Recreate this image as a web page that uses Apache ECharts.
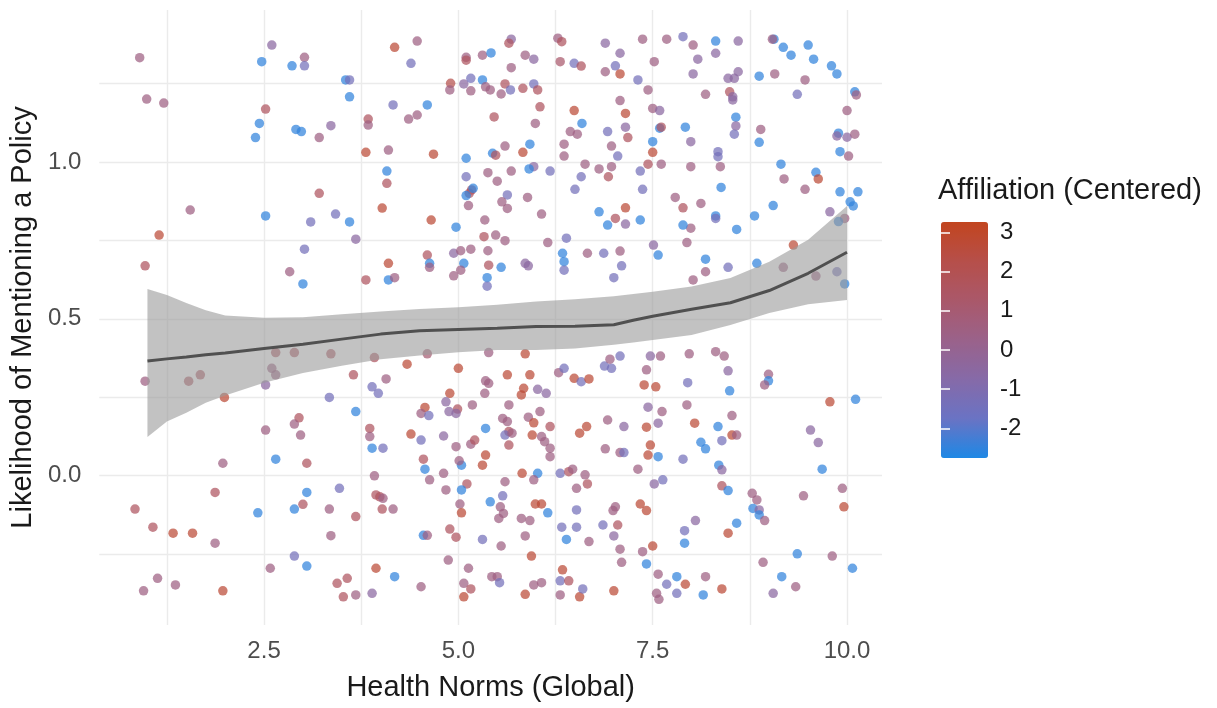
<!DOCTYPE html>
<html>
<head>
<meta charset="utf-8">
<title>Health Norms vs Policy Mentions</title>
<script src="https://cdn.jsdelivr.net/npm/echarts@6.0.0/dist/echarts.min.js"></script>
<style>
  html, body { margin: 0; padding: 0; background: #fff; }
  #main { width: 1217px; height: 708px; }
</style>
</head>
<body>
<div id="main"></div>
<script>
// points: [health norms, mentioned policy (jittered), affiliation centered]
var upperLeft = [
  [0.90,1.333,0.5],[0.99,1.201,0.5],[1.21,1.188,0.5],[2.60,1.373,-0.5],[2.47,1.32,-2.5],[3.02,1.334,0.5],[2.86,1.307,-2.5],[3.02,1.307,-1.4],
  [4.18,1.366,2.7],[4.47,1.386,0.5],[4.39,1.315,-1.4],[5.10,1.334,0.5],[5.10,1.325,1.6],[5.31,1.341,0.5],[5.42,1.348,-2.5],[3.55,1.262,-2.5],
  [3.60,1.262,-1.4],[3.60,1.208,-2.5],[4.90,1.251,2.2],[4.89,1.23,0.5],[5.07,1.249,-0.5],[5.16,1.267,-1.4],[5.16,1.227,0.5],[5.31,1.262,-2.5],
  [5.35,1.24,0.5],[5.41,1.23,0.5],[2.52,1.169,1.6],[2.44,1.123,-2.5],[2.39,1.078,-2.5],[2.91,1.104,-2.5],[2.98,1.097,-2.5],[3.36,1.116,-0.5],
  [3.21,1.078,0.5],[4.16,1.182,-1.4],[4.60,1.182,-2.5],[4.36,1.137,0.5],[4.47,1.15,0.5],[3.84,1.137,1.6],[3.84,1.118,0.5],[3.81,1.031,2.7],
  [4.10,1.038,0.5],[4.68,1.025,2.7],[5.10,1.012,-2.5],[5.46,1.144,1.6],[5.44,1.028,-2.5],[5.48,1.022,1.6],[5.10,0.953,-1.4],[5.38,0.966,0.5],
  [5.17,0.911,1.6],[5.14,0.90,1.6],[5.10,0.893,-2.5],[5.19,0.916,-2.5],[5.13,0.861,0.5],[5.34,0.815,0.5],[4.97,0.792,-2.5],[4.08,0.971,-2.5],
  [4.08,0.932,1.6],[3.21,0.90,1.6],[1.55,0.847,0.5],[2.52,0.828,-2.5],[3.10,0.809,-1.4],[3.42,0.834,-1.4],[3.60,0.809,-2.5],[4.02,0.853,2.7],
  [4.65,0.815,2.7],[1.15,0.767,2.7]
];
var midLeft = [
  [0.97,0.669,1.6],[3.02,0.722,-1.4],[2.83,0.65,0.5],[3.00,0.611,-2.5],[3.68,0.754,-0.5],[4.60,0.703,1.6],[4.63,0.677,-2.5],[4.63,0.664,0.5],
  [4.10,0.677,2.7],[3.81,0.624,1.6],[4.10,0.624,-2.5],[4.18,0.631,0.5],[4.94,0.709,-0.5],[5.03,0.717,0.5],[5.16,0.722,0.5],[5.33,0.762,1.6],
  [5.07,0.677,-2.5],[5.03,0.655,0.5],[4.94,0.637,0.5],[5.38,0.717,0.5],[5.39,0.671,1.6],[5.37,0.631,-2.5],[5.37,0.604,-1.4],
  [0.97,0.301,0.5],[1.53,0.301,1.6],[1.68,0.321,1.6],[1.99,0.249,2.7],[2.65,0.392,1.6],[2.89,0.392,1.6],[2.60,0.342,0.5],[2.65,0.321,0.5],
  [2.52,0.289,-0.5],[3.36,0.388,1.6],[3.92,0.376,1.6],[4.60,0.388,1.0],[4.34,0.355,2.7],[3.65,0.321,1.6],[4.07,0.308,0.5],[3.89,0.283,-1.4],
  [3.97,0.262,-1.4],[3.34,0.249,-1.4],[5.00,0.342,2.7],[5.35,0.302,0.5],[5.39,0.294,0.5],[5.34,0.262,0.5],[5.39,0.392,0.5],[4.89,0.262,2.7],
  [4.84,0.235,-0.5],[5.18,0.225,0.5],[4.57,0.217,2.7],[4.52,0.198,0.5],[4.62,0.191,-1.4],[4.88,0.204,-0.5],[4.99,0.212,1.6],[4.97,0.198,-0.5],
  [3.68,0.204,-2.5],[2.95,0.184,1.6],[2.89,0.164,0.5],[2.52,0.145,0.5],[3.86,0.15,1.6],[5.35,0.15,-2.5]
];
var lowerLeft = [
  [2.97,0.129,0.5],[3.86,0.124,0.5],[4.39,0.132,2.7],[4.52,0.113,-1.4],[4.81,0.126,-0.5],[4.97,0.092,0.5],[5.16,0.10,0.5],[5.21,0.113,1.6],
  [5.35,0.065,2.7],[5.31,0.033,2.7],[5.04,0.033,-2.5],[5.01,0.047,0.5],[1.97,0.039,0.5],[2.65,0.052,-2.5],[3.05,0.039,1.6],[3.89,0.087,-2.5],
  [4.03,0.087,-1.4],[4.55,0.052,1.6],[4.57,0.02,-2.5],[4.63,-0.014,0.5],[4.81,0.007,0.5],[4.84,-0.046,0.5],[5.11,-0.027,1.6],[5.04,-0.046,-2.5],
  [5.41,-0.084,-2.5],[5.02,-0.091,0.5],[5.04,-0.119,2.7],[3.92,-0.001,0.5],[3.94,-0.062,1.6],[3.99,-0.068,1.6],[4.03,-0.073,0.5],[4.02,-0.107,1.6],
  [4.16,-0.107,0.5],[3.68,-0.131,1.6],[3.34,-0.107,0.5],[3.05,-0.054,-2.5],[3.47,-0.041,-1.4],[3.00,-0.092,1.6],[2.89,-0.107,-2.5],[2.42,-0.119,-2.5],
  [1.87,-0.054,1.6],[0.84,-0.107,1.6],[1.07,-0.165,1.6],[1.33,-0.184,2.7],[1.58,-0.184,2.7],[1.87,-0.216,0.5],[3.36,-0.192,0.5],[4.89,-0.171,1.6],
  [4.97,-0.197,1.6],[4.55,-0.191,-2.5],[4.60,-0.191,0.5],[5.31,-0.204,-1.4],[2.89,-0.257,-1.4],[3.05,-0.289,-2.5],[2.58,-0.296,0.5],[4.87,-0.27,0.5],
  [3.94,-0.296,2.7],[4.18,-0.323,-2.5],[3.44,-0.344,1.6],[3.57,-0.328,1.6],[3.52,-0.387,1.6],[3.68,-0.381,0.5],[3.89,-0.376,-0.5],[4.52,-0.355,0.5],
  [5.13,-0.296,0.5],[5.07,-0.344,0.5],[5.16,-0.362,1.6],[5.07,-0.387,2.7],[5.43,-0.323,0.5],[1.13,-0.328,0.5],[0.95,-0.368,0.5],[1.36,-0.349,0.5],
  [1.97,-0.368,2.7]
];
var upperRight = [
  [5.68,1.392,-0.5],[5.65,1.379,1.6],[5.86,1.341,0.5],[5.97,1.328,-0.5],[5.68,1.301,0.5],[6.28,1.395,0.5],[6.33,1.384,1.6],[6.31,1.32,1.2],
  [6.49,1.315,-1.4],[6.58,1.306,1.6],[6.89,1.379,-0.5],[7.08,1.347,-0.5],[6.89,1.288,0.5],[7.02,1.307,-1.4],[7.08,1.281,2.7],[7.37,1.392,0.5],
  [7.68,1.392,0.5],[7.89,1.40,-1.4],[8.02,1.373,0.5],[7.52,1.32,0.5],[7.31,1.262,-1.4],[8.08,1.328,-0.5],[8.31,1.347,-0.5],[8.31,1.386,-2.5],
  [8.60,1.386,-0.5],[8.02,1.281,-0.5],[8.47,1.267,-0.5],[8.55,1.267,-0.5],[8.60,1.288,-0.5],[8.87,1.274,-2.5],[9.07,1.281,0.5],[9.06,1.392,-2.5],
  [9.04,1.392,0.5],[9.18,1.366,-2.5],[9.28,1.341,-2.5],[9.50,1.373,-2.5],[9.57,1.328,-2.5],[9.80,1.307,-2.5],[9.87,1.281,-2.5],[9.46,1.262,0.5],
  [9.36,1.216,-1.4],[8.18,1.216,0.5],[8.49,1.224,1.6],[8.53,1.208,-0.5],[8.53,1.198,-0.5],[8.57,1.143,-2.5],[8.57,1.115,-0.5],[8.55,1.089,-1.4],
  [8.89,1.104,0.5],[8.87,1.063,-2.5],[10.10,1.224,-2.5],[10.12,1.214,0.5],[10.0,1.164,0.5],[9.89,1.092,-2.5],[9.87,1.083,-0.5],[10.0,1.079,-0.5],
  [10.10,1.089,0.5],[9.91,1.033,-2.5],[10.02,1.019,0.5],[9.15,0.993,-2.5],[9.19,0.946,0.5],[9.60,0.967,-2.5],[9.63,0.946,2.7],[9.46,0.913,0.5],
  [9.91,0.905,-2.5],[10.14,0.905,-2.5],[10.04,0.873,-2.5],[10.08,0.86,-2.5],[9.78,0.841,-0.5],[9.97,0.82,0.5],[9.89,0.81,-2.5],[9.05,0.861,-2.5],
  [8.81,0.828,-2.5],[8.58,0.785,-2.5],[8.31,0.828,-2.5],[8.31,0.82,-1.4],[8.38,0.919,-2.5],[8.34,1.033,-1.4],[8.34,1.017,-1.4],[8.37,0.985,0.5],
  [7.99,0.985,0.5],[7.99,1.065,-0.5],[7.92,1.111,-2.5],[8.12,0.868,0.5],[7.79,0.887,0.5],[7.89,0.854,1.6],[7.99,0.789,0.5],[7.89,0.799,-2.5]
];
var upperMid = [
  [7.44,1.23,0.5],[7.50,1.171,0.5],[7.59,1.164,-0.5],[7.08,1.196,0.5],[7.15,1.155,2.7],[7.15,1.111,-0.5],[7.18,1.078,1.6],[7.59,1.108,-2.5],
  [7.61,1.111,1.6],[7.50,1.065,-2.5],[7.50,1.031,2.7],[7.44,0.993,1.6],[7.61,0.993,0.5],[7.34,0.971,-1.4],[7.37,0.913,-1.4],[7.34,0.815,-2.5],
  [7.15,0.854,2.7],[7.02,0.82,1.6],[7.15,0.802,-0.5],[6.81,0.841,-2.5],[6.92,0.799,-2.5],[6.97,1.051,0.5],[7.05,1.019,-1.4],[6.92,1.097,-1.4],
  [6.97,0.985,0.5],[6.93,0.953,1.6],[6.81,0.978,0.5],[6.58,0.953,-1.4],[6.50,0.913,-1.4],[6.63,0.993,0.5],[6.59,1.123,-2.5],[6.49,1.164,2.7],
  [6.44,1.097,0.5],[6.53,1.089,0.5],[6.36,1.057,0.5],[6.36,1.019,0.5],[6.18,0.971,-1.4],[5.97,0.985,-0.5],[5.91,0.978,-2.5],[5.92,1.057,-2.5],
  [5.83,1.031,2.7],[5.60,1.051,0.5],[5.68,0.971,0.5],[5.50,0.939,0.5],[5.63,0.895,-1.4],[5.56,0.873,0.5],[5.63,0.852,0.5],[5.89,0.887,0.5],
  [6.07,0.834,0.5],[5.99,1.123,0.5],[6.05,1.176,1.6],[5.83,1.235,1.6],[5.97,1.249,-1.4],[6.02,1.23,1.6],[5.60,1.249,1.6],[5.55,1.217,0.5],
  [5.67,1.23,-1.4]
];
var midRight = [
  [5.60,0.749,0.5],[5.48,0.767,0.5],[6.15,0.743,0.5],[6.39,0.757,-1.4],[6.34,0.709,-2.5],[6.36,0.682,-2.5],[6.36,0.655,-1.4],[5.86,0.677,-0.5],
  [5.90,0.669,-0.5],[5.55,0.664,-2.5],[6.66,0.709,0.5],[6.87,0.709,-1.4],[7.08,0.716,0.5],[7.10,0.669,-1.4],[7.00,0.631,-1.4],[7.51,0.735,-0.5],
  [7.57,0.703,-2.5],[7.94,0.743,0.5],[8.18,0.69,-2.5],[8.18,0.65,0.5],[8.02,0.624,0.5],[8.47,0.664,-1.4],[8.84,0.677,-2.5],[9.31,0.735,2.7],
  [9.18,0.664,0.5],[9.60,0.636,0.5],[9.87,0.65,-1.4],[9.97,0.611,-2.5],
  [5.86,0.388,2.7],[5.63,0.321,2.7],[5.92,0.321,2.7],[5.84,0.278,2.7],[5.81,0.257,2.7],[6.02,0.275,-0.5],[6.13,0.262,-0.5],[5.65,0.225,0.5],
  [6.05,0.204,0.5],[5.57,0.182,0.5],[5.63,0.172,0.5],[5.90,0.186,0.5],[5.97,0.168,2.7],[6.18,0.156,1.6],[6.29,0.328,0.5],[6.36,0.342,-1.4],
  [6.49,0.31,2.7],[6.58,0.299,-1.4],[6.68,0.308,2.7],[6.88,0.349,-1.4],[6.97,0.342,-1.4],[6.95,0.371,0.5],[7.08,0.381,-1.4],[6.92,0.177,0.5],
  [7.13,0.156,-0.5],[6.65,0.156,2.7],[7.42,0.337,0.5],[7.47,0.381,-0.5],[7.60,0.381,0.5],[7.39,0.289,2.7],[7.54,0.283,2.7],[7.44,0.218,-0.5],
  [7.62,0.204,0.5],[7.57,0.167,-0.5],[7.42,0.154,2.7],[7.97,0.388,0.5],[7.95,0.296,-1.4],[7.94,0.225,0.5],[8.04,0.167,2.7],[8.31,0.395,0.5],
  [8.42,0.381,0.5],[8.47,0.334,-0.5],[8.49,0.27,-2.5],[8.52,0.191,0.5],[8.34,0.156,-2.5],[8.99,0.323,0.5],[8.99,0.302,-2.5],[8.94,0.289,0.5],
  [9.78,0.235,2.7],[10.11,0.243,-2.5],[9.53,0.145,-0.5]
];
var lowerRight = [
  [5.65,0.14,1.6],[5.60,0.129,-1.4],[5.69,0.135,0.5],[5.65,0.097,1.6],[5.95,0.129,2.7],[6.07,0.124,0.5],[6.11,0.108,0.5],[6.18,0.087,0.5],
  [6.18,0.06,0.5],[6.56,0.135,2.7],[6.89,0.085,0.5],[7.08,0.073,0.5],[7.13,0.073,-1.4],[7.47,0.097,2.7],[7.44,0.065,2.7],[7.57,0.06,-2.5],
  [7.89,0.052,-1.4],[8.12,0.106,-2.5],[8.18,0.085,-2.5],[8.39,0.111,-1.4],[8.52,0.129,2.7],[8.58,0.129,0.5],[8.35,0.033,-2.5],[8.39,0.018,-0.5],
  [9.63,0.105,-0.5],[9.68,0.02,-2.5],[5.82,0.007,2.7],[6.02,0.007,-2.5],[5.97,-0.014,0.5],[5.60,-0.02,0.5],[6.31,0.007,-1.4],[6.42,0.012,1.6],
  [6.47,0.02,0.5],[6.63,0.002,0.5],[6.66,-0.027,1.6],[6.52,-0.041,0.5],[7.31,0.02,0.5],[7.52,-0.027,-0.5],[7.63,-0.014,-1.4],[8.39,-0.033,1.6],
  [8.47,-0.048,-2.5],[8.78,-0.057,0.5],[8.84,-0.078,0.5],[8.79,-0.105,-2.5],[8.87,-0.11,-0.5],[8.87,-0.126,-2.5],[8.94,-0.144,0.5],[9.44,-0.065,0.5],
  [9.94,-0.041,0.5],[9.96,-0.10,2.7],[5.57,-0.065,-1.4],[5.54,-0.10,0.5],[5.58,-0.121,0.5],[5.52,-0.137,0.5],[5.81,-0.137,0.5],[5.92,-0.144,0.5],
  [5.99,-0.091,2.7],[6.07,-0.091,2.7],[6.15,-0.119,-2.5],[5.86,-0.193,0.5],[5.55,-0.225,0.5],[5.94,-0.257,2.7],[6.52,-0.11,-1.4],[6.33,-0.165,-1.4],
  [6.52,-0.165,-1.4],[6.39,-0.204,-2.5],[6.68,-0.211,0.5],[6.86,-0.158,-1.4],[7.05,-0.158,1.6],[7.00,-0.193,-0.5],[7.02,-0.10,0.5],[6.99,-0.112,0.5],
  [7.34,-0.091,2.7],[7.42,-0.112,2.7],[7.08,-0.235,0.5],[7.10,-0.277,0.5],[7.37,-0.243,0.5],[7.50,-0.225,2.7],[7.42,-0.282,-2.5],[7.91,-0.176,-1.4],
  [7.91,-0.216,-2.5],[8.05,-0.144,-0.5],[8.47,-0.184,2.7],[8.58,-0.152,-2.5],[5.50,-0.323,0.5],[5.53,-0.342,-1.4],[5.86,-0.379,2.7],[5.97,-0.349,0.5],
  [6.07,-0.342,0.5],[6.34,-0.301,2.7],[6.31,-0.336,-1.4],[6.42,-0.336,1.6],[6.31,-0.381,0.5],[6.56,-0.387,2.7],[6.60,-0.362,-1.4],[7.00,-0.368,2.7],
  [7.57,-0.315,0.5],[7.81,-0.323,-2.5],[7.68,-0.347,-1.4],[7.92,-0.347,2.7],[8.18,-0.323,0.5],[7.81,-0.376,-1.4],[7.55,-0.376,0.5],[7.58,-0.395,0.5],
  [8.15,-0.381,-2.5],[8.39,-0.362,2.7],[8.92,-0.277,0.5],[9.16,-0.323,-2.5],[9.05,-0.376,-0.5],[9.34,-0.355,0.5],[9.36,-0.25,-2.5],[9.81,-0.257,0.5],
  [10.07,-0.296,-2.5]
];

// loess fit and its confidence band
var smoothX  = [1.0, 1.25, 1.5, 1.75, 2.0, 2.5, 3.0, 3.5, 4.0, 4.5, 5.0, 5.5, 6.0, 6.5, 7.0, 7.25, 7.5, 8.0, 8.5, 9.0, 9.5, 10.0];
var smoothY  = [0.365, 0.372, 0.378, 0.385, 0.391, 0.405, 0.419, 0.435, 0.451, 0.462, 0.466, 0.470, 0.475, 0.476, 0.481, 0.495, 0.508, 0.530, 0.551, 0.590, 0.645, 0.712];
var bandHigh = [0.595, 0.576, 0.550, 0.527, 0.510, 0.503, 0.505, 0.514, 0.523, 0.531, 0.537, 0.545, 0.555, 0.562, 0.572, 0.579, 0.586, 0.603, 0.630, 0.682, 0.752, 0.860];
var bandLow  = [0.123, 0.172, 0.200, 0.232, 0.255, 0.296, 0.327, 0.350, 0.371, 0.383, 0.393, 0.400, 0.400, 0.405, 0.417, 0.424, 0.432, 0.448, 0.480, 0.518, 0.546, 0.560];

// axis ticks
var xTicks = [1.25, 2.5, 3.75, 5, 6.25, 7.5, 8.75, 10];
var xLabels = [2.5, 5, 7.5, 10];
var yTicks = [-0.25, 0, 0.25, 0.5, 0.75, 1, 1.25];
var yLabels = [0, 0.5, 1];
var legendTicks = [-2, -1, 0, 1, 2, 3];

var points = [].concat(upperLeft, midLeft, lowerLeft, upperRight, upperMid, midRight, lowerRight);

var font = 'Liberation Sans, Arial, sans-serif';
var chart = echarts.init(document.getElementById('main'));

var option = {
    animation: false,
    backgroundColor: '#ffffff',
    textStyle: { fontFamily: font },
    title: {
        text: 'Affiliation (Centered)',
        left: 938,
        top: 176,
        padding: 0,
        textStyle: { fontSize: 29, fontWeight: 'normal', color: '#1a1a1a', fontFamily: font }
    },
    grid: [
        { left: 95, right: 335, top: 10, bottom: 83 },
        { left: 941, top: 222, width: 47, height: 236 }
    ],
    visualMap: {
        type: 'continuous',
        seriesIndex: 0,
        dimension: 2,
        min: -2.76,
        max: 3.27,
        calculable: false,
        hoverLink: false,
        orient: 'vertical',
        left: 941,
        top: 222,
        itemWidth: 47,
        itemHeight: 236,
        padding: 0,
        inRange: {
            color: ['#1e88e5', '#6a73c4', '#866aa8', '#9a628a', '#aa586a', '#b64f4a', '#c2451f']
        }
    },
    xAxis: [
        {
            type: 'value',
            gridIndex: 0,
            min: 0.38,
            max: 10.45,
            name: 'Health Norms (Global)',
            nameLocation: 'middle',
            nameGap: 48,
            nameTextStyle: { fontSize: 29, color: '#1a1a1a' },
            axisLine: { show: false },
            axisTick: { show: false, customValues: xTicks },
            axisLabel: {
                customValues: xLabels,
                fontSize: 24,
                color: '#4d4d4d',
                margin: 14,
                formatter: function (v) { return v.toFixed(1); }
            },
            splitLine: { show: true, lineStyle: { color: '#ebebeb', width: 1.4 } }
        },
        { type: 'value', gridIndex: 1, show: false, min: 0, max: 1 }
    ],
    yAxis: [
        {
            type: 'value',
            gridIndex: 0,
            min: -0.477,
            max: 1.485,
            name: 'Likelihood of Mentioning a Policy',
            nameLocation: 'middle',
            nameGap: 56,
            nameTextStyle: { fontSize: 29, color: '#1a1a1a' },
            axisLine: { show: false },
            axisTick: { show: false, customValues: yTicks },
            axisLabel: {
                customValues: yLabels,
                fontSize: 24,
                color: '#4d4d4d',
                margin: 18,
                formatter: function (v) { return v.toFixed(1); }
            },
            splitLine: { show: true, lineStyle: { color: '#ebebeb', width: 1.4 } }
        },
        {
            type: 'value',
            gridIndex: 1,
            position: 'right',
            min: -2.76,
            max: 3.27,
            z: 10,
            axisLine: { show: false },
            axisTick: { show: true, inside: true, length: 9, customValues: legendTicks, lineStyle: { color: '#ffffff', width: 1.5 } },
            axisLabel: { customValues: legendTicks, fontSize: 24, color: '#1a1a1a', margin: 12 },
            splitLine: { show: false }
        },
        {
            type: 'value',
            gridIndex: 1,
            position: 'left',
            min: -2.76,
            max: 3.27,
            z: 10,
            axisLine: { show: false },
            axisTick: { show: true, inside: true, length: 9, customValues: legendTicks, lineStyle: { color: '#ffffff', width: 1.5 } },
            axisLabel: { show: false },
            splitLine: { show: false }
        }
    ],
    series: [
        {
            type: 'scatter',
            xAxisIndex: 0,
            yAxisIndex: 0,
            z: 2,
            symbolSize: 9.5,
            itemStyle: { opacity: 0.72 },
            data: points
        },
        {
            type: 'custom',
            xAxisIndex: 0,
            yAxisIndex: 0,
            z: 3,
            silent: true,
            encode: { x: 0, y: [1, 2] },
            data: smoothX.map(function (x, i) { return [x, bandLow[i], bandHigh[i]]; }),
            renderItem: function (params, api) {
                if (params.dataIndex !== 0) return;
                var pts = [];
                for (var i = 0; i < smoothX.length; i++) pts.push(api.coord([smoothX[i], bandHigh[i]]));
                for (var j = smoothX.length - 1; j >= 0; j--) pts.push(api.coord([smoothX[j], bandLow[j]]));
                return { type: 'polygon', shape: { points: pts }, style: { fill: 'rgba(153,153,153,0.6)' } };
            }
        },
        {
            type: 'line',
            xAxisIndex: 0,
            yAxisIndex: 0,
            z: 4,
            showSymbol: false,
            silent: true,
            lineStyle: { color: '#505050', width: 3 },
            data: smoothX.map(function (x, i) { return [x, smoothY[i]]; })
        }
    ]
};

chart.setOption(option);
</script>
</body>
</html>
